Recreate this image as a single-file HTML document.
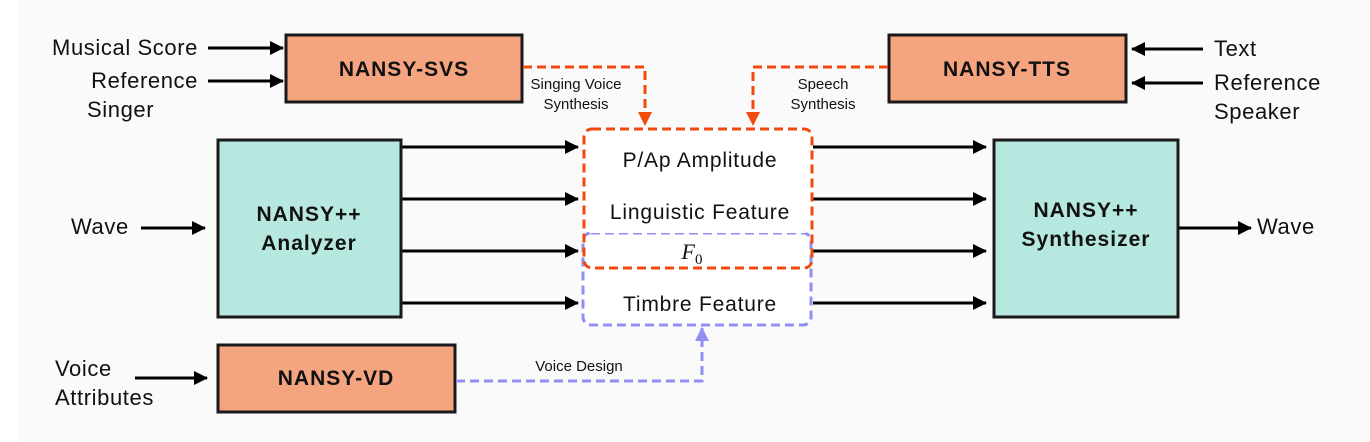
<!DOCTYPE html>
<html><head><meta charset="utf-8"><style>
html,body{margin:0;padding:0;background:#fff}
svg{display:block;font-family:"Liberation Sans",sans-serif}
</style></head><body>
<svg width="1370" height="442" viewBox="0 0 1370 442" xmlns="http://www.w3.org/2000/svg">
<defs>
<marker id="ab" markerWidth="14" markerHeight="14" refX="13" refY="7" orient="auto" markerUnits="userSpaceOnUse"><path d="M0,0 L14,7 L0,14 z" fill="#000"/></marker>
<marker id="ao" markerWidth="14" markerHeight="14" refX="7" refY="13" orient="0" markerUnits="userSpaceOnUse"><path d="M0,0 L14,0 L7,14 z" fill="#f04a0c"/></marker>
<marker id="ap" markerWidth="14" markerHeight="14" refX="7" refY="1" orient="0" markerUnits="userSpaceOnUse"><path d="M0,14 L14,14 L7,0 z" fill="#9090f4"/></marker>
</defs>
<rect x="18" y="0" width="1352" height="442" fill="#fafafa"/>
<g stroke="#000" stroke-width="3">
<line x1="208" y1="48" x2="283" y2="48" marker-end="url(#ab)"/>
<line x1="208" y1="81" x2="283" y2="81" marker-end="url(#ab)"/>
<line x1="1203" y1="49" x2="1132" y2="49" marker-end="url(#ab)"/>
<line x1="1203" y1="83" x2="1132" y2="83" marker-end="url(#ab)"/>
<line x1="141" y1="228" x2="205" y2="228" marker-end="url(#ab)"/>
<line x1="135" y1="378" x2="207" y2="378" marker-end="url(#ab)"/>
<line x1="1179" y1="228" x2="1251" y2="228" marker-end="url(#ab)"/>
<line x1="401" y1="147" x2="578" y2="147" marker-end="url(#ab)"/>
<line x1="401" y1="199" x2="578" y2="199" marker-end="url(#ab)"/>
<line x1="401" y1="251" x2="578" y2="251" marker-end="url(#ab)"/>
<line x1="401" y1="303" x2="578" y2="303" marker-end="url(#ab)"/>
<line x1="813" y1="147" x2="986" y2="147" marker-end="url(#ab)"/>
<line x1="813" y1="199" x2="986" y2="199" marker-end="url(#ab)"/>
<line x1="813" y1="251" x2="986" y2="251" marker-end="url(#ab)"/>
<line x1="813" y1="303" x2="986" y2="303" marker-end="url(#ab)"/>
</g>
<rect x="286" y="35" width="236" height="67" fill="#f4a47e" stroke="#1a1a1a" stroke-width="3"/>
<rect x="889" y="35" width="237" height="67" fill="#f4a47e" stroke="#1a1a1a" stroke-width="3"/>
<rect x="218" y="140" width="183" height="177" fill="#b6e8e0" stroke="#1a1a1a" stroke-width="3"/>
<rect x="994" y="140" width="184" height="177" fill="#b6e8e0" stroke="#1a1a1a" stroke-width="3"/>
<rect x="218" y="345" width="237" height="67" fill="#f4a47e" stroke="#1a1a1a" stroke-width="3"/>
<rect x="583" y="233" width="228" height="92" rx="8" fill="#fff" stroke="#9090f4" stroke-width="3" stroke-dasharray="9,5"/>
<rect x="584" y="129" width="228" height="104" rx="8" fill="#fff"/>
<rect x="584" y="129" width="228" height="139" rx="8" fill="none" stroke="#f04a0c" stroke-width="3" stroke-dasharray="9,5"/>
<polyline points="523,67 645,67 645,125" fill="none" stroke="#f04a0c" stroke-width="3" stroke-dasharray="9,5" marker-end="url(#ao)"/>
<polyline points="888,67 753,67 753,125" fill="none" stroke="#f04a0c" stroke-width="3" stroke-dasharray="9,5" marker-end="url(#ao)"/>
<polyline points="456,381 702,381 702,328" fill="none" stroke="#9090f4" stroke-width="3" stroke-dasharray="9,5" marker-end="url(#ap)"/>
<g font-size="22" fill="#111" letter-spacing="0.6">
<text x="198" y="55" text-anchor="end">Musical Score</text>
<text x="198" y="88" text-anchor="end">Reference</text>
<text x="87" y="117">Singer</text>
<text x="1214" y="56">Text</text>
<text x="1214" y="90">Reference</text>
<text x="1214" y="119">Speaker</text>
<text x="71" y="234">Wave</text>
<text x="1257" y="234">Wave</text>
<text x="55" y="376">Voice</text>
<text x="55" y="405">Attributes</text>
</g>
<g font-size="21" font-weight="bold" fill="#111" text-anchor="middle" letter-spacing="1">
<text x="404" y="76">NANSY-SVS</text>
<text x="1007" y="76">NANSY-TTS</text>
<text x="336" y="385">NANSY-VD</text>
<text x="309" y="221">NANSY++</text>
<text x="309" y="250">Analyzer</text>
<text x="1086" y="217">NANSY++</text>
<text x="1086" y="246">Synthesizer</text>
</g>
<g font-size="21" fill="#111" text-anchor="middle" letter-spacing="0.8">
<text x="700" y="167">P/Ap Amplitude</text>
<text x="700" y="219">Linguistic Feature</text>
<text x="700" y="311">Timbre Feature</text>
</g>
<text x="692" y="259" font-family="Liberation Serif,serif" font-style="italic" font-size="22" fill="#111" text-anchor="middle">F<tspan font-style="normal" font-size="15" dy="5">0</tspan></text>
<g font-size="15" fill="#111" text-anchor="middle">
<text x="576" y="89">Singing Voice</text>
<text x="576" y="109">Synthesis</text>
<text x="823" y="89">Speech</text>
<text x="823" y="109">Synthesis</text>
<text x="579" y="371">Voice Design</text>
</g>
</svg>
</body></html>
